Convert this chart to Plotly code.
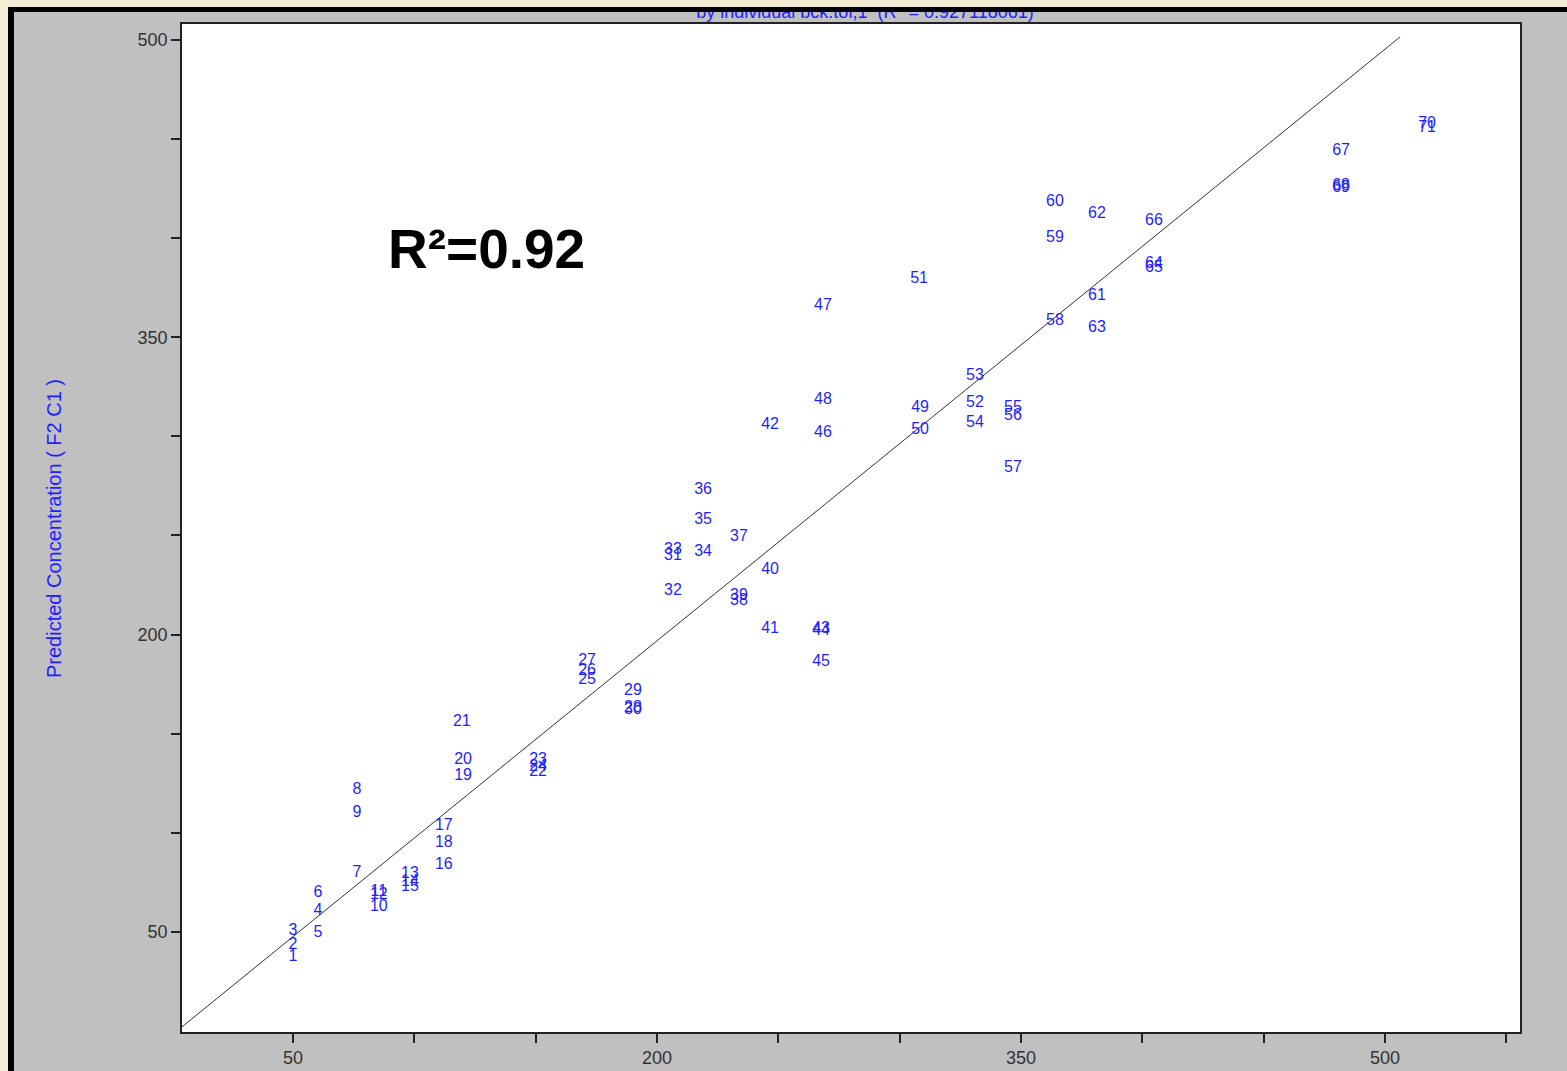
import plotly.graph_objects as go

W, H = 1567, 1071

# ---- data ----
sample_ids = [str(i) for i in range(1, 72)]
actual = [50, 50, 50, 60.3, 60.3, 60.3, 76.4, 76.4, 76.4, 85.4, 85.4, 85.4,
          98.2, 98.2, 98.2, 112.2, 112.2, 112.2, 120.1, 120.1, 119.6,
          151, 151, 151, 171.2, 171.2, 171.2, 190.1, 190.1, 190.1,
          206.6, 206.6, 206.6, 219, 219, 219, 233.8, 233.8, 233.8,
          246.6, 246.6, 246.6, 267.6, 267.6, 267.6, 268.4, 268.4, 268.4,
          308.4, 308.4, 308.0, 331, 331, 331, 346.7, 346.7, 346.7,
          364, 364, 364, 381.3, 381.3, 381.3, 404.8, 404.8, 404.8,
          481.9, 481.9, 481.9, 517.3, 517.3]
predicted = [37.4, 43.4, 50.5, 60.6, 49.5, 69.7, 79.8, 121.6, 110.0, 62.6, 70.2, 68.7,
             79.3, 75.2, 72.7, 83.8, 103.5, 94.9, 128.7, 136.8, 156.0,
             130.7, 136.8, 133.2, 177.1, 181.7, 186.7, 163.0, 171.6, 162.0,
             239.7, 222.0, 242.7, 241.7, 257.9, 273.0, 249.3, 217.0, 219.5,
             232.6, 202.9, 305.8, 202.9, 201.9, 186.2, 301.8, 365.8, 318.4,
             314.4, 303.3, 379.5, 316.9, 330.5, 306.8, 314.4, 310.3, 284.1,
             358.3, 400.1, 418.3, 370.9, 412.3, 354.7, 387.0, 385.0, 408.7,
             444.0, 426.4, 425.4, 457.7, 455.7]
fit_x = [4.3, 506.2]
fit_y = [2.1, 501.5]

tick_vals = [50, 100, 150, 200, 250, 300, 350, 400, 450, 500, 550]
tick_text = ["50", " ", " ", "200", " ", " ", "350", " ", " ", "500", " "]
ytick_vals = [50, 100, 150, 200, 250, 300, 350, 400, 450, 500]
ytick_text = ["50", " ", " ", "200", " ", " ", "350", " ", " ", "500"]

title_text = "by individual bck.tol,1  (R<sup>2</sup> = 0.927118061)"
r2_text = "<b>R²=0.92</b>"
ylabel = "Predicted Concentration ( F2 C1 )"

# ---- layout geometry (pixels) ----
L, R, T, B = 182, 1520, 12, 1032
plot_top = 24
pw, ph = R - L, B - T
def px(x): return (x - L) / pw
def py(y): return (B - y) / ph

BLUE = "#1f1fff"
FONT = "Liberation Sans, Arial, sans-serif"

fig = go.Figure()
fig.add_trace(go.Scatter(x=fit_x, y=fit_y, mode="lines",
                         line=dict(color="#333333", width=1), hoverinfo="skip",
                         showlegend=False))
fig.add_trace(go.Scatter(x=actual, y=predicted, mode="text", text=sample_ids,
                         textposition="middle center",
                         textfont=dict(family=FONT, size=16, color=BLUE),
                         showlegend=False))
# cut-off title strip
fig.add_trace(go.Scatter(x=[px(865)], y=[0.83], mode="text", text=[title_text],
                         textposition="middle center", cliponaxis=True,
                         textfont=dict(family=FONT, size=18, color=BLUE),
                         xaxis="x2", yaxis="y2", showlegend=False, hoverinfo="skip"))

shapes = [
    dict(type="rect", xref="paper", yref="paper", x0=px(8), x1=px(1700), y0=py(1200), y1=py(7),
         fillcolor="black", line=dict(width=0), layer="below"),
    dict(type="rect", xref="paper", yref="paper", x0=px(14), x1=px(1700), y0=py(1200), y1=py(12),
         fillcolor="#c0c0c0", line=dict(width=0), layer="below"),
    dict(type="rect", xref="paper", yref="paper", x0=0, x1=1, y0=0, y1=py(plot_top),
         fillcolor="white", line=dict(width=0), layer="below"),
]

axis_common = dict(showline=True, linecolor="#222222", linewidth=1.5, mirror=True,
                   ticks="outside", tickcolor="#222222", tickwidth=1.5,
                   showgrid=False, zeroline=False, automargin=False,
                   tickfont=dict(family=FONT, size=18, color="#333333"))

fig.update_layout(
    width=W, height=H, autosize=False,
    margin=dict(l=L, r=W - R, t=T, b=H - B),
    paper_bgcolor="#f5ecd6", plot_bgcolor="white",
    shapes=shapes,
    xaxis=dict(range=[4.3, 555.6], domain=[0, 1], tickmode="array",
               tickvals=tick_vals, ticktext=tick_text, ticklen=9, **axis_common),
    yaxis=dict(range=[-0.5, 508], domain=[0, py(plot_top)], tickmode="array",
               tickvals=ytick_vals, ticktext=ytick_text, ticklen=9, **axis_common),
    xaxis2=dict(range=[0, 1], domain=[0, 1], visible=False, anchor="y2", automargin=False),
    yaxis2=dict(range=[0, 1], domain=[py(plot_top - 1), 1], visible=False, anchor="x2",
                automargin=False),
    annotations=[
        dict(x=129.9, y=394.6, xref="x", yref="y", text=r2_text, showarrow=False,
             font=dict(family=FONT, size=55, color="black"), xanchor="center", yanchor="middle"),
        dict(x=px(54), y=py(529), xref="paper", yref="paper", text=ylabel, showarrow=False,
             textangle=-90, font=dict(family=FONT, size=20, color=BLUE),
             xanchor="center", yanchor="middle"),
    ],
)

fig.write_html("out.html",
               config={"displayModeBar": False, "responsive": False},
               post_script="document.body.style.margin='0px';document.body.style.overflow='hidden';")
